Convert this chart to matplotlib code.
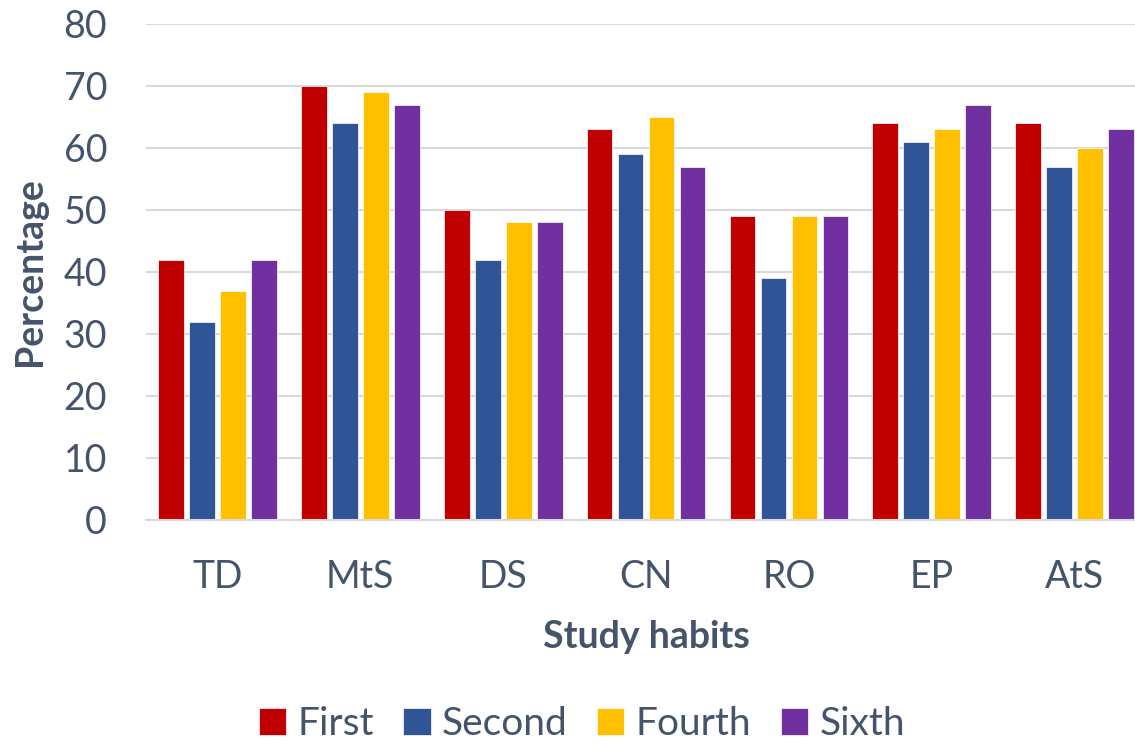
import numpy as np
import matplotlib.pyplot as plt

# Data
categories = ["TD", "MtS", "DS", "CN", "RO", "EP", "AtS"]
first = [42, 70, 50, 63, 49, 64, 64]
second = [32, 64, 42, 59, 39, 61, 57]
fourth = [37, 69, 48, 65, 49, 63, 60]
sixth = [42, 67, 48, 57, 49, 67, 63]
series_names = ["First", "Second", "Fourth", "Sixth"]

colors = ["#C00000", "#2F5597", "#FFC000", "#7030A0"]
text_color = "#44546A"
grid_color = "#D9D9D9"

plt.rcParams['font.family'] = ['Lato', 'DejaVu Sans']

fig = plt.figure(figsize=(11.35, 7.46), dpi=100)
ax = fig.add_axes([146 / 1135, 1 - 520 / 746, 1000 / 1135, 496 / 746])

x = np.arange(len(categories))
slot = 0.217
for i, vals in enumerate([first, second, fourth, sixth]):
    ax.bar(x + (i - 1.5) * slot, vals, width=0.18, color=colors[i],
           edgecolor="white", linewidth=0.5, label=series_names[i], zorder=3)

ax.set_xlim(-0.5, len(categories) - 0.5)
ax.set_ylim(0, 80)
ax.set_yticks(range(0, 81, 10))
ax.set_xticks(x)
ax.set_xticklabels(categories)

ax.grid(axis='y', color=grid_color, linewidth=1.5, zorder=0)
for s in ["top", "right", "left"]:
    ax.spines[s].set_visible(False)
ax.spines["bottom"].set_color(grid_color)
ax.spines["bottom"].set_linewidth(1.5)
ax.spines["bottom"].set_zorder(4)

ax.tick_params(axis='both', length=0, labelsize=27, labelcolor=text_color)
ax.tick_params(axis='x', pad=28)
ax.tick_params(axis='y', pad=28)

ax.set_xlabel("Study habits", fontsize=27, fontweight='bold', color=text_color, labelpad=18)
ax.set_ylabel("Percentage", fontsize=27, fontweight='bold', color=text_color, labelpad=12)

ax.legend(loc='center', bbox_to_anchor=(582 / 1135, 1 - 724 / 746),
          bbox_transform=fig.transFigure, ncol=4, frameon=False,
          fontsize=28, labelcolor=text_color, handlelength=0.7, handleheight=0.7,
          handletextpad=0.3, columnspacing=0.75)

fig.savefig("out.png", dpi=100)
